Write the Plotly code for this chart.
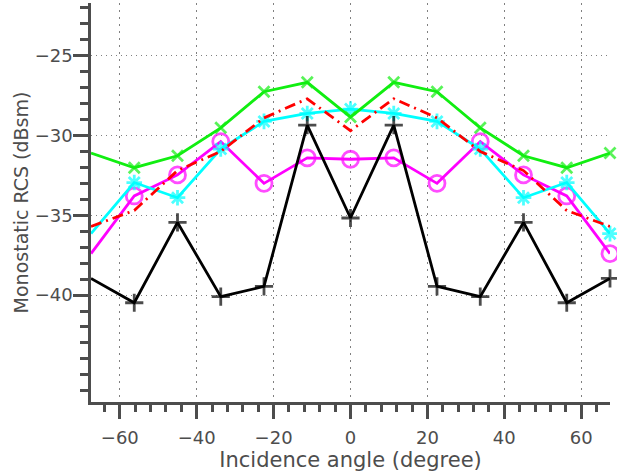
import plotly.graph_objects as go

# incidence angles (degree)
angles = [-67.5, -56.25, -45, -33.75, -22.5, -11.25, 0, 11.25, 22.5, 33.75, 45, 56.25, 67.5]

# monostatic RCS (dBsm) per series
rcs_black = [-38.96, -40.48, -35.45, -40.1, -39.46, -29.35, -35.17, -29.35, -39.46, -40.1, -35.45, -40.48, -38.96]
rcs_red = [-35.7, -34.7, -32.2, -31.0, -28.9, -27.7, -29.7, -27.7, -28.9, -31.0, -32.2, -34.7, -35.7]
rcs_green = [-31.1, -32.02, -31.27, -29.52, -27.26, -26.67, -28.85, -26.67, -27.26, -29.52, -31.27, -32.02, -31.1]
rcs_cyan = [-36.15, -32.95, -33.9, -30.85, -29.12, -28.62, -28.35, -28.62, -29.12, -30.85, -33.9, -32.95, -36.15]
rcs_magenta = [-37.4, -33.79, -32.47, -30.38, -33.0, -31.4, -31.49, -31.4, -33.0, -30.38, -32.47, -33.79, -37.4]

x_ticks = [-60, -40, -20, 0, 20, 40, 60]
y_ticks = [-40, -35, -30, -25]

AX = "#4d4d4d"
FONT = "DejaVu Sans"
n = len(angles)


def sizes(s):
    # the leftmost point carries no visible marker in the reference
    return [0] + [s] * (n - 1)


fig = go.Figure()

fig.add_trace(go.Scatter(
    x=angles, y=rcs_magenta, mode="lines+markers",
    line=dict(color="#ff00ff", width=2.8),
    marker=dict(symbol="circle-open", size=sizes(16), color="#ff00ff",
                line=dict(width=2.8, color="#ff00ff")),
    cliponaxis=False, showlegend=False))

fig.add_trace(go.Scatter(
    x=angles, y=rcs_cyan, mode="lines+markers",
    line=dict(color="#00ffff", width=2.8),
    marker=dict(symbol="asterisk-open", size=sizes(13), color="#00ffff",
                line=dict(width=2.8, color="#00ffff")),
    cliponaxis=False, showlegend=False))

fig.add_trace(go.Scatter(
    x=angles, y=rcs_red, mode="lines",
    line=dict(color="#ff0000", width=2.8, dash="11px,5px,2px,5px"),
    showlegend=False))

fig.add_trace(go.Scatter(
    x=angles, y=rcs_green, mode="lines+markers",
    line=dict(color="#11ee11", width=2.8),
    marker=dict(symbol="x-thin-open", size=sizes(11), color="#11ee11",
                line=dict(width=2.8, color="#11ee11")),
    cliponaxis=False, showlegend=False))

fig.add_trace(go.Scatter(
    x=angles, y=rcs_black, mode="lines+markers",
    line=dict(color="#000000", width=2.8),
    marker=dict(symbol="cross-thin-open", size=sizes(13), color="#000000",
                line=dict(width=2.8, color="#000000")),
    cliponaxis=False, showlegend=False))

fig.update_layout(
    width=617, height=472,
    margin=dict(l=91, r=7, t=3, b=70),
    paper_bgcolor="white", plot_bgcolor="white",
    font=dict(family=FONT, color=AX, size=18),
)

fig.update_xaxes(
    range=[-67.5, 67.5], automargin=False,
    tickvals=x_ticks,
    ticks="outside", ticklen=14, tickwidth=2.5, tickcolor=AX,
    showline=True, linewidth=2.5, linecolor=AX,
    showgrid=True, gridcolor="#808080", gridwidth=1, griddash="2px,5px",
    zeroline=False, ticklabelstandoff=4,
    minor=dict(tickvals=[v for v in range(-64, 65, 4)], ticks="outside",
               ticklen=7, tickwidth=2.5, tickcolor=AX, showgrid=False),
    tickfont=dict(size=18, color=AX, family=FONT),
    title=dict(text="Incidence angle (degree)", font=dict(size=21, color=AX, family=FONT),
               standoff=0),
)

fig.update_yaxes(
    range=[-46.7, -21.7], automargin=False,
    tickvals=y_ticks,
    ticks="outside", ticklen=15, tickwidth=2.5, tickcolor=AX,
    showline=True, linewidth=2.5, linecolor=AX,
    showgrid=True, gridcolor="#808080", gridwidth=1, griddash="1px,4px",
    zeroline=False, ticklabelstandoff=-3,
    minor=dict(tickvals=[v for v in range(-46, -21)], ticks="outside",
               ticklen=8, tickwidth=2.5, tickcolor=AX, showgrid=False),
    tickfont=dict(size=18, color=AX, family=FONT),
    title=dict(text="Monostatic RCS (dBsm)", font=dict(size=19, color=AX, family=FONT),
               standoff=2),
)

fig.write_html("out.html", config={"displayModeBar": False},
               post_script="document.body.style.margin='0';")
